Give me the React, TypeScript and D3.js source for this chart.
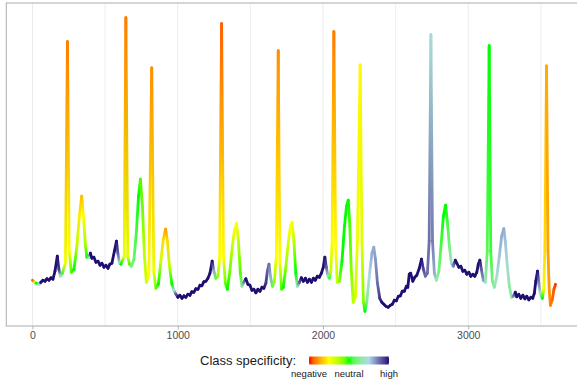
import { useEffect, useRef } from 'react';
import * as d3 from 'd3';

// ── Data ─────────────────────────────────────────────────────────────────
// sample index along the recording
const sampleIdx = [
  0, 14, 28, 45, 58, 72, 86, 100, 114, 127, 141, 155, 171, 182, 193, 206, 227, 241, 253, 268, 286, 306, 323, 339, 351, 365, 375, 389,
  399, 409, 423, 437, 451, 465, 478, 492, 506, 520, 533, 547, 564, 578, 588, 599, 609, 632, 643, 656, 668, 681, 699, 716, 730, 743, 757, 771, 784, 801, 821, 835, 850, 867, 884, 901, 917, 929, 943, 960, 974, 988,
  1001, 1015, 1029, 1043, 1056, 1070, 1084, 1097, 1111, 1125, 1139, 1153, 1166, 1180, 1194, 1208, 1222, 1237, 1249, 1263, 1277, 1289, 1302, 1315, 1328, 1342, 1359, 1376, 1390, 1405, 1418, 1431, 1442, 1455,
  1469, 1483, 1497, 1511, 1524, 1538, 1552, 1566, 1580, 1593, 1607, 1617, 1628, 1638, 1652, 1665, 1679, 1692, 1703, 1715, 1727, 1745, 1762, 1776, 1788, 1800, 1813, 1824, 1838,
  1851, 1865, 1879, 1893, 1906, 1920, 1934, 1947, 1961, 1975, 1989, 2002, 2013, 2023, 2034, 2044, 2054, 2063, 2075, 2087, 2098, 2113, 2131, 2148, 2162, 2174, 2185, 2195, 2208, 2223, 2237, 2256, 2268, 2278, 2289, 2302, 2319, 2337, 2350, 2361, 2375, 2391,
  2405, 2419, 2433, 2449, 2464, 2477, 2491, 2505, 2519, 2533, 2546, 2560, 2574, 2584, 2594, 2604, 2618, 2632, 2646, 2663, 2678, 2691, 2705, 2719, 2731, 2743, 2754, 2767, 2781, 2798, 2815, 2829, 2844, 2856, 2870, 2884, 2897,
  2911, 2921, 2935, 2949, 2963, 2976, 2990, 3004, 3018, 3032, 3045, 3059, 3069, 3080, 3090, 3104, 3118, 3131, 3144, 3155, 3166, 3180, 3197, 3214, 3230, 3245, 3255, 3269, 3283, 3298, 3310,
  3324, 3334, 3348, 3362, 3376, 3390, 3403, 3417, 3431, 3444, 3455, 3465, 3477, 3486, 3496, 3510, 3520, 3528, 3539, 3549, 3558, 3566, 3579, 3590, 3601,
];

// signal amplitude
const signal = [
  0.21, 0.19, 0.18, 0.17, 0.19, 0.21, 0.2, 0.225, 0.21, 0.235, 0.22, 0.3, 0.45, 0.32, 0.25, 0.28, 0.38, 2.59, 0.5, 0.29, 0.32, 0.55, 0.85, 1.05, 0.85, 0.55, 0.44, 0.44,
  0.48, 0.43, 0.44, 0.39, 0.4, 0.36, 0.38, 0.34, 0.36, 0.33, 0.37, 0.38, 0.5, 0.6, 0.48, 0.38, 0.37, 0.45, 2.83, 0.45, 0.37, 0.35, 0.42, 0.7, 1.05, 1.22, 0.95, 0.45, 0.19, 0.25, 2.33, 0.3, 0.13, 0.17, 0.4, 0.62, 0.72, 0.6, 0.35, 0.17, 0.11, 0.07,
  0.04, 0.06, 0.03, 0.055, 0.04, 0.07, 0.06, 0.095, 0.09, 0.125, 0.12, 0.16, 0.155, 0.195, 0.2, 0.23, 0.28, 0.4, 0.3, 0.23, 0.25, 0.45, 2.77, 0.45, 0.18, 0.12, 0.3, 0.55, 0.7, 0.775, 0.6, 0.28, 0.15, 0.19,
  0.225, 0.17, 0.16, 0.11, 0.12, 0.085, 0.12, 0.1, 0.14, 0.13, 0.18, 0.3, 0.37, 0.25, 0.15, 0.19, 0.45, 2.5, 0.4, 0.12, 0.14, 0.35, 0.6, 0.75, 0.79, 0.6, 0.28, 0.15, 0.19,
  0.235, 0.2, 0.23, 0.19, 0.22, 0.19, 0.23, 0.21, 0.25, 0.24, 0.28, 0.34, 0.44, 0.34, 0.25, 0.23, 0.3, 0.6, 2.69, 0.55, 0.19, 0.2, 0.4, 0.75, 0.95, 1.01, 0.75, 0.3, -0.01, 0.04, 0.6, 2.36, 0.6, 0.0, -0.1, 0.0, 0.25, 0.48, 0.54, 0.42, 0.18, 0.03,
  -0.01, -0.03, -0.05, -0.06, -0.04, -0.03, 0.01, 0.005, 0.05, 0.055, 0.1, 0.1, 0.15, 0.14, 0.27, 0.28, 0.2, 0.24, 0.26, 0.33, 0.42, 0.32, 0.25, 0.28, 0.6, 2.66, 0.6, 0.28, 0.21, 0.3, 0.6, 0.85, 0.96, 0.8, 0.55, 0.38, 0.35,
  0.41, 0.38, 0.34, 0.35, 0.3, 0.31, 0.27, 0.29, 0.25, 0.27, 0.25, 0.29, 0.37, 0.41, 0.32, 0.21, 0.19, 0.5, 2.55, 0.5, 0.2, 0.14, 0.25, 0.45, 0.65, 0.725, 0.6, 0.35, 0.15, 0.04, 0.05,
  0.09, 0.045, 0.07, 0.03, 0.06, 0.025, 0.05, 0.015, 0.04, 0.03, 0.08, 0.2, 0.3, 0.18, 0.08, 0.03, 0.12, 0.55, 2.35, 0.5, 0.1, -0.04, 0.02, 0.12, 0.17,
];

// class specificity per sample: -1 negative, 0 neutral, 1 high
const specificity = [
  -0.9, -0.3, 0, 0.5, 1, 1, 1, 1, 1, 1, 1, 1, 1, 0.9, 0.4, 0.05, -0.45, -0.84, -0.5, -0.05, 0, -0.3, -0.55, -0.68, -0.5, -0.2, 0, 0.3,
  1, 1, 1, 1, 1, 1, 1, 1, 1, 1, 1, 1, 1, 1, 0.8, 0.4, 0, -0.45, -0.84, -0.4, -0.05, 0.2, 0.15, 0.05, 0, -0.05, -0.1, -0.3, -0.35, -0.5, -0.8, -0.45, -0.1, 0, -0.35, -0.6, -0.76, -0.6, -0.3, 0, 0.5, 0.8,
  1, 1, 1, 1, 1, 1, 1, 1, 1, 1, 1, 1, 1, 1, 1, 1, 1, 1, 0.6, 0.1, -0.2, -0.5, -0.9, -0.5, -0.1, 0, -0.1, -0.3, -0.45, -0.5, -0.3, -0.05, 0.3, 0.7,
  1, 1, 1, 1, 1, 1, 1, 1, 1, 1, 0.9, 0.8, 0.75, 0.6, 0.1, -0.2, -0.5, -0.8, -0.5, -0.05, 0, -0.2, -0.4, -0.5, -0.5, -0.3, 0, 0.35, 0.8,
  1, 1, 1, 1, 1, 1, 1, 1, 1, 1, 1, 1, 1, 0.8, 0.4, 0.05, -0.3, -0.5, -0.84, -0.5, -0.3, -0.15, 0, 0, 0, 0, -0.05, -0.15, -0.3, -0.35, -0.45, -0.52, -0.4, -0.15, 0, 0.25, 0.5, 0.6, 0.6, 0.65, 0.75, 0.9,
  1, 1, 1, 1, 1, 1, 1, 1, 1, 1, 1, 1, 1, 1, 1, 1, 1, 1, 1, 1, 1, 0.85, 0.75, 0.75, 0.75, 0.45, 0.72, 0.6, 0.35, 0.2, 0.05, 0, 0, 0.05, 0.2, 0.4, 0.7,
  1, 1, 1, 1, 1, 1, 1, 1, 1, 1, 1, 1, 1, 1, 0.8, 0.65, 0.4, 0.1, 0, 0.05, 0.2, 0.3, 0.45, 0.55, 0.6, 0.6, 0.55, 0.45, 0.3, 0.3, 0.7,
  1, 1, 1, 1, 1, 1, 1, 1, 1, 1, 1, 1, 1, 0.7, 0.4, 0, -0.45, -0.6, -0.72, -0.75, -0.78, -0.82, -0.88, -0.92, -0.97,
];

const xMajorTicks = [0, 1000, 2000, 3000];
const xMinorTicks = [500, 1500, 2500, 3500];
const legendTitle = 'Class specificity:';
const legendLabels = ['negative', 'neutral', 'high'];
const legendValues = [-1, 0, 1];

// ── Layout / style ───────────────────────────────────────────────────────
const WIDTH = 577;
const HEIGHT = 389;
const PANEL = { left: 6.3, right: 581.7, top: 3, bottom: 326 };
const FONT = '"Liberation Sans", Arial, sans-serif';
const GRID = '#ebebeb';
const BORDER = '#b3b3b3';
const LINE_WIDTH = 2.8;

const colour = d3
  .scaleLinear<string>()
  .domain([-1, -0.5, 0, 0.5, 1])
  .range(['#ff0000', '#ffff00', '#00ff00', '#add8e6', '#1f0f73'])
  .interpolate(d3.interpolateLab)
  .clamp(true);

export default function App() {
  const svgRef = useRef<SVGSVGElement>(null);

  useEffect(() => {
    if (!svgRef.current) return;
    const svg = d3.select(svgRef.current);
    svg.selectAll('*').remove();

    // ── Scales (5% expansion like ggplot) ─────────────────────────────
    const [x0, x1] = d3.extent(sampleIdx) as [number, number];
    const xPad = (x1 - x0) * 0.05;
    const x = d3.scaleLinear().domain([x0 - xPad, x1 + xPad]).range([PANEL.left, PANEL.right]);

    const [y0, y1] = d3.extent(signal) as [number, number];
    const yPad = (y1 - y0) * 0.05;
    const y = d3.scaleLinear().domain([y0 - yPad, y1 + yPad]).range([PANEL.bottom, PANEL.top]);

    svg.append('rect').attr('width', WIDTH).attr('height', HEIGHT).attr('fill', '#fff');

    // ── Vertical grid lines ────────────────────────────────────────────
    svg.append('g')
      .selectAll('line')
      .data([...xMinorTicks, ...xMajorTicks])
      .join('line')
      .attr('x1', (d) => x(d))
      .attr('x2', (d) => x(d))
      .attr('y1', PANEL.top)
      .attr('y2', PANEL.bottom)
      .attr('stroke', GRID)
      .attr('stroke-width', (d) => (xMajorTicks.includes(d) ? 1 : 0.8));

    // ── Coloured signal path (one segment per pair of samples) ─────────
    const defs = svg.append('defs');
    const lineG = svg.append('g')
      .attr('fill', 'none')
      .attr('stroke-width', LINE_WIDTH)
      .attr('stroke-linecap', 'round');

    for (let i = 1; i < sampleIdx.length; i++) {
      const ax = x(sampleIdx[i - 1]);
      const ay = y(signal[i - 1]);
      const bx = x(sampleIdx[i]);
      const by = y(signal[i]);
      const ca = colour(specificity[i - 1]);
      const cb = colour(specificity[i]);
      let stroke = ca;
      if (ca !== cb) {
        const id = `seg-${i}`;
        const grad = defs.append('linearGradient')
          .attr('id', id)
          .attr('gradientUnits', 'userSpaceOnUse')
          .attr('x1', ax).attr('y1', ay)
          .attr('x2', bx).attr('y2', by);
        grad.append('stop').attr('offset', 0).attr('stop-color', ca);
        grad.append('stop').attr('offset', 1).attr('stop-color', cb);
        stroke = `url(#${id})`;
      }
      lineG.append('line')
        .attr('x1', ax).attr('y1', ay)
        .attr('x2', bx).attr('y2', by)
        .attr('stroke', stroke);
    }

    // ── Panel border ───────────────────────────────────────────────────
    svg.append('rect')
      .attr('x', PANEL.left)
      .attr('y', PANEL.top)
      .attr('width', PANEL.right - PANEL.left)
      .attr('height', PANEL.bottom - PANEL.top)
      .attr('fill', 'none')
      .attr('stroke', BORDER)
      .attr('stroke-width', 1.1);

    // ── X axis ─────────────────────────────────────────────────────────
    svg.append('g')
      .attr('transform', `translate(0,${PANEL.bottom})`)
      .call(d3.axisBottom(x).tickValues(xMajorTicks).tickSize(3.5).tickPadding(2.5).tickFormat(d3.format('d')))
      .call((sel) => {
        sel.select('.domain').remove();
        sel.selectAll('.tick line').attr('stroke', BORDER);
        sel.selectAll('.tick text')
          .attr('fill', '#4d4d4d')
          .attr('font-size', '10.5px')
          .attr('font-family', FONT);
      });

    // ── Legend ─────────────────────────────────────────────────────────
    const bar = { x: 309, y: 356.5, w: 80, h: 8 };
    const legendScale = d3.scaleLinear().domain([-1, 1]).range([bar.x, bar.x + bar.w]);

    svg.append('text')
      .attr('x', 200)
      .attr('y', 365)
      .attr('font-size', '13px')
      .attr('font-family', FONT)
      .attr('fill', '#1a1a1a')
      .text(legendTitle);

    const lg = defs.append('linearGradient').attr('id', 'legend-grad');
    d3.range(0, 1.0001, 0.05).forEach((t) => {
      lg.append('stop').attr('offset', t).attr('stop-color', colour(-1 + 2 * t));
    });
    svg.append('rect')
      .attr('x', bar.x).attr('y', bar.y)
      .attr('width', bar.w).attr('height', bar.h)
      .attr('fill', 'url(#legend-grad)');

    // white colourbar ticks
    legendValues.forEach((v) => {
      const tx = legendScale(v);
      [[bar.y, bar.y + 1.6], [bar.y + bar.h - 1.6, bar.y + bar.h]].forEach(([a, b]) => {
        svg.append('line')
          .attr('x1', tx).attr('x2', tx).attr('y1', a).attr('y2', b)
          .attr('stroke', '#fff').attr('stroke-width', 0.6);
      });
    });

    svg.append('g')
      .selectAll('text')
      .data(legendLabels)
      .join('text')
      .attr('x', (_, i) => legendScale(legendValues[i]))
      .attr('y', 377)
      .attr('text-anchor', 'middle')
      .attr('font-size', '9.5px')
      .attr('font-family', FONT)
      .attr('fill', '#1a1a1a')
      .text((d) => d);
  }, []);

  return (
    <svg
      ref={svgRef}
      width={WIDTH}
      height={HEIGHT}
      style={{ position: 'absolute', left: 0, top: 0, display: 'block' }}
    />
  );
}
